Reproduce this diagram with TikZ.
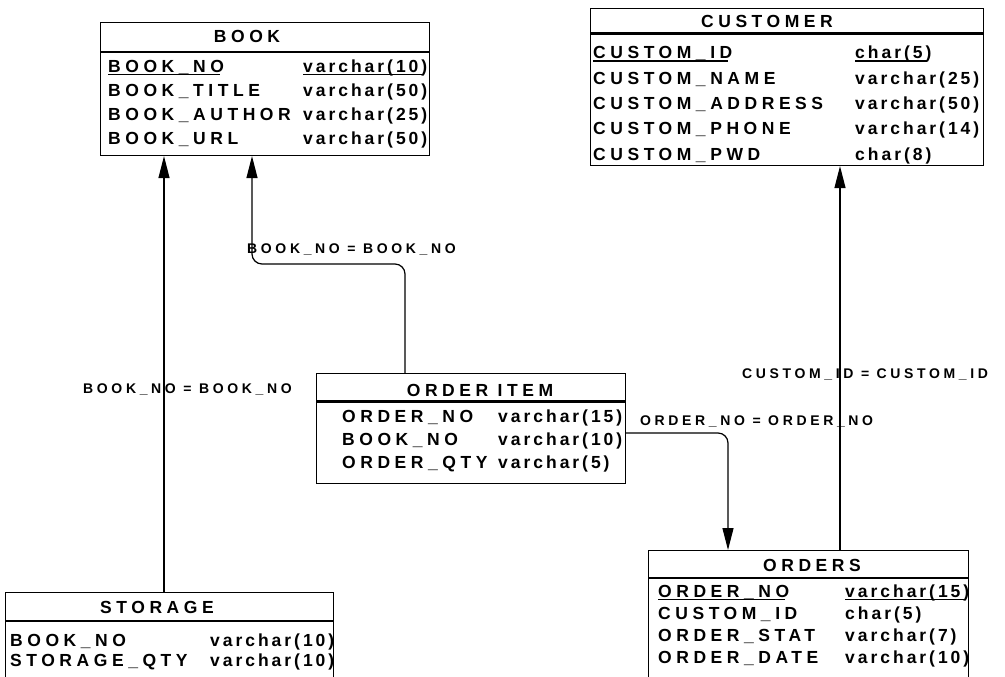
\documentclass[tikz,border=0pt]{standalone}
\usepackage{fontspec}
\newfontfamily\erdname[LetterSpace=26]{Liberation Sans}
\newfontfamily\erdtype[LetterSpace=17]{Liberation Sans}
\usetikzlibrary{arrows.meta,calc}
\newcommand\pkey[1]{\setbox0\hbox{#1}\rlap{\rule[-3pt]{\dimexpr\wd0-4pt\relax}{1.4pt}}\box0}

\begin{document}
\begin{tikzpicture}[
  x=1pt, y=-1pt,
  entity/.style={draw=black, rectangle, line width=1.1pt, inner sep=0pt, anchor=north west},
  entitytitle/.style={font=\erdname\bfseries\fontsize{17.5}{20}\selectfont, inner sep=0pt, anchor=base},
  attrname/.style={font=\erdname\bfseries\fontsize{17.5}{#1}\selectfont, align=left, inner sep=0pt, anchor=base west},
  attrtype/.style={font=\erdtype\bfseries\fontsize{17.5}{#1}\selectfont, align=left, inner sep=0pt, anchor=base west},
  rel/.style={font=\erdname\bfseries\fontsize{14}{16}\selectfont, inner sep=0pt, anchor=base west},
  sepline/.style={line width=1.2pt},
  thicksep/.style={line width=3pt},
  fk/.style={-{Triangle[length=22pt, width=11pt]}, line width=1.2pt},
]
  \path[use as bounding box, fill=white] (0,0) rectangle (1005,677);
  \clip (0,0) rectangle (1005,677);

  \node[entity, minimum width=329pt, minimum height=133pt] (book) at (100,22) {};
  \node[entitytitle] (booktitle) at (247,43) {BOOK};
  \draw[sepline] ($(book.north west)+(0,30)$) -- ($(book.north east)+(0,30)$);
  \node[attrname=24] (bookkeys) at (108,144) {\pkey{BOOK\_NO}\\BOOK\_TITLE\\BOOK\_AUTHOR\\BOOK\_URL};
  \node[attrtype=24] (booktypes) at (303,144) {\pkey{varchar(10)}\\varchar(50)\\varchar(25)\\varchar(50)};

  \node[entity, minimum width=393pt, minimum height=157pt] (customer) at (590,8) {};
  \node[entitytitle] (customertitle) at (767,28) {CUSTOMER};
  \draw[thicksep] ($(customer.north west)+(0,26)$) -- ($(customer.north east)+(0,26)$);
  \node[attrname=25.3] (customerkeys) at (593,160) {\pkey{CUSTOM\_ID}\\CUSTOM\_NAME\\CUSTOM\_ADDRESS\\CUSTOM\_PHONE\\CUSTOM\_PWD};
  \node[attrtype=25.3] (customertypes) at (855,160) {\pkey{char(5)}\\varchar(25)\\varchar(50)\\varchar(14)\\char(8)};

  \node[entity, minimum width=309pt, minimum height=110pt] (item) at (316,373) {};
  \node[entitytitle] (itemtitle) at (480,396) {ORDER ITEM};
  \draw[thicksep] ($(item.north west)+(0,28)$) -- ($(item.north east)+(0,28)$);
  \node[attrname=23] (itemkeys) at (342,468) {ORDER\_NO\\BOOK\_NO\\ORDER\_QTY};
  \node[attrtype=23] (itemtypes) at (498,468) {varchar(15)\\varchar(10)\\varchar(5)};

  \node[entity, minimum width=328pt, minimum height=110pt] (storage) at (5,592) {};
  \node[entitytitle] (storagetitle) at (157,613) {STORAGE};
  \draw[sepline] ($(storage.north west)+(0,29)$) -- ($(storage.north east)+(0,29)$);
  \node[attrname=20] (storagekeys) at (10,666) {BOOK\_NO\\STORAGE\_QTY};
  \node[attrtype=20] (storagetypes) at (210,666) {varchar(10)\\varchar(10)};

  \node[entity, minimum width=320pt, minimum height=150pt] (orders) at (648,550) {};
  \node[entitytitle] (orderstitle) at (812,571) {ORDERS};
  \draw[sepline] ($(orders.north west)+(0,28)$) -- ($(orders.north east)+(0,28)$);
  \node[attrname=22] (orderskeys) at (658,663) {\pkey{ORDER\_NO}\\CUSTOM\_ID\\ORDER\_STAT\\ORDER\_DATE};
  \node[attrtype=22] (orderstypes) at (845,663) {\pkey{varchar(15)}\\char(5)\\varchar(7)\\varchar(10)};

  \coordinate (storagelink) at ($(storage.north west)+(159,0)$);
  \coordinate (bookin) at ($(book.south west)+(152,0)$);
  \coordinate (itemup) at ($(item.north west)+(89,0)$);
  \coordinate (itemout) at ($(item.north east)+(0,60)$);
  \coordinate (ordersin) at ($(orders.north west)+(80,0)$);
  \coordinate (ordersup) at ($(orders.north west)+(192,0)$);

  \draw[fk] (storagelink) -- (storagelink |- book.south);
  \draw[fk, rounded corners=10pt] (itemup) -- ++(0,-109) -| (bookin);
  \draw[fk, rounded corners=10pt] (itemout) -| (ordersin);
  \draw[fk] (ordersup) -- (ordersup |- customer.south);

  \node[rel] (storagerel) at (83,393) {BOOK\_NO = BOOK\_NO};
  \node[rel] (itemrel) at (247,253) {BOOK\_NO = BOOK\_NO};
  \node[rel] (ordersrel) at (640,425) {ORDER\_NO = ORDER\_NO};
  \node[rel] (customerrel) at (742,378) {CUSTOM\_ID = CUSTOM\_ID};
\end{tikzpicture}
\end{document}
